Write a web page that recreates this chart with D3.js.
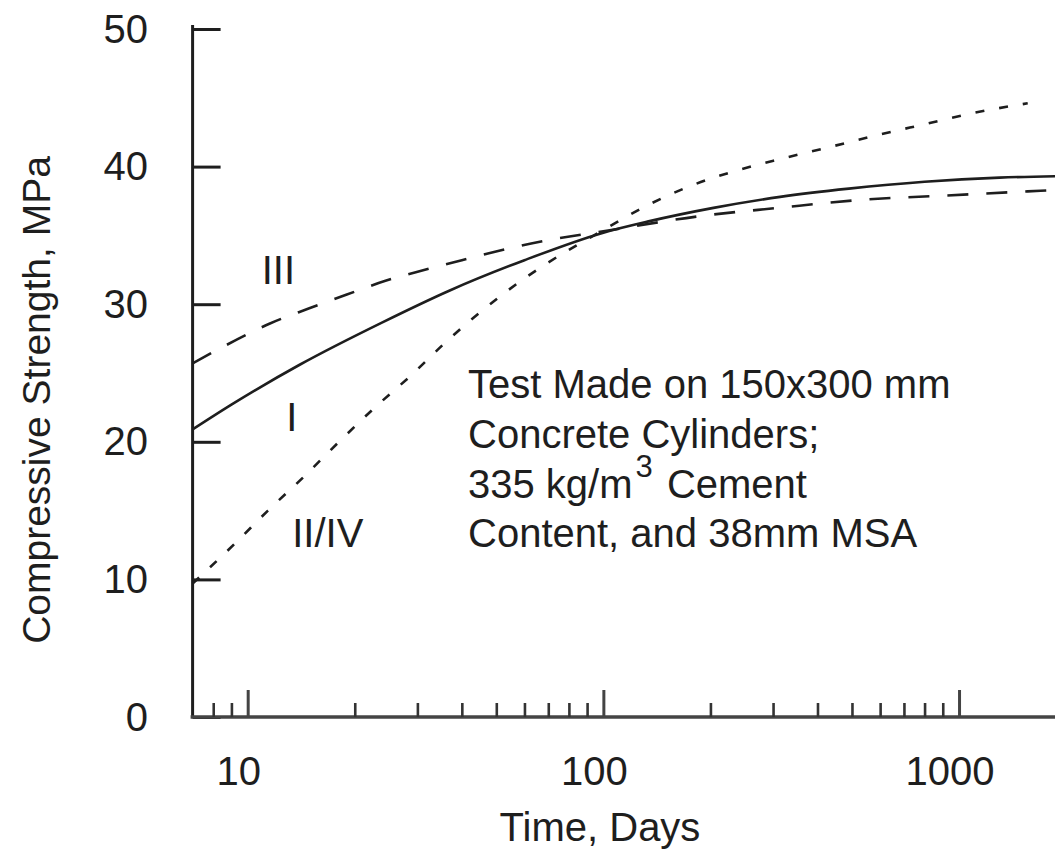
<!DOCTYPE html>
<html>
<head>
<meta charset="utf-8">
<script src="https://cdn.jsdelivr.net/npm/d3@7/dist/d3.min.js"></script>
<style>
  html, body { margin: 0; padding: 0; background: #fff; }
  svg { display: block; }
  text { font-family: "Liberation Sans", Arial, Helvetica, sans-serif; fill: #1e1e1e; }
</style>
</head>
<body>
<svg id="chart" width="1055" height="850"></svg>
<script>
// ---------- data ----------
const typeIDays      = [7, 9, 14, 24, 37, 60, 100, 133, 204, 314, 490, 800, 1300, 1870];
const typeIStrength  = [20.9, 22.7, 25.6, 28.7, 31.0, 33.2, 35.2, 36.0, 37.0, 37.8, 38.4, 38.9, 39.2, 39.3];

const typeIIIDays     = [7, 9.2, 11.55, 14.9, 19, 24.4, 31.5, 40, 68, 100, 187, 310, 540, 920, 1560, 1870];
const typeIIIStrength = [25.7, 27.35, 28.6, 29.7, 30.7, 31.7, 32.5, 33.2, 34.6, 35.3, 36.4, 37.0, 37.6, 37.9, 38.2, 38.3];

const typeIIIVDays     = [7, 9.2, 11.4, 14.3, 17.9, 22.8, 29, 35.9, 52, 66, 100, 131, 176, 236, 320, 437, 592, 807, 1100, 1560];
const typeIIIVStrength = [9.7, 12.6, 15.0, 17.4, 19.9, 22.5, 24.9, 27.2, 30.7, 32.6, 35.4, 37.1, 38.6, 39.7, 40.6, 41.45, 42.3, 43.1, 43.9, 44.6];

const yTicks      = [0, 10, 20, 30, 40, 50];
const xMajorTicks = [10, 100, 1000];
const xMinorTicks = [8, 9, 20, 30, 40, 50, 60, 70, 80, 90, 200, 300, 400, 500, 600, 700, 800, 900];
const xTickLabels = ["10", "100", "1000"];

const seriesLabels = ["III", "I", "II/IV"];
const noteLines = ["Test Made on 150x300 mm", "Concrete Cylinders;", "335 kg/m", "3", " Cement", "Content, and 38mm MSA"];
const xTitle = "Time, Days";
const yTitle = "Compressive Strength, MPa";

// ---------- layout ----------
const svg = d3.select("#chart");
const ink = "#1e1e1e";
const x = d3.scaleLog().domain([7, 2000]).range([192.6, 1066.1]);
const y = d3.scaleLinear().domain([0, 50]).range([717, 29]);

svg.append("defs").append("clipPath").attr("id", "plotclip")
  .append("rect").attr("x", 190).attr("y", 0).attr("width", 865).attr("height", 720);

// ---------- axes ----------
const yAxis = d3.axisRight(y).tickValues(yTicks).tickSize(28).tickFormat("");
const gy = svg.append("g").attr("transform", `translate(${x(7)},0)`).call(yAxis);
gy.select(".domain").attr("stroke", ink).attr("stroke-width", 3).attr("d", `M0,${y(50) - 4}V${y(0)}`);
gy.selectAll(".tick line").attr("stroke", ink).attr("stroke-width", 3);

const xAxisMajor = d3.axisTop(x).tickValues(xMajorTicks).tickSize(27).tickFormat("");
const gx = svg.append("g").attr("transform", `translate(0,${y(0)})`).call(xAxisMajor);
gx.select(".domain").attr("stroke", "#444").attr("stroke-width", 3.5).attr("d", `M${x(7) - 2},0H1060`);
gx.selectAll(".tick line").attr("stroke", "#444").attr("stroke-width", 3);

const xAxisMinor = d3.axisTop(x).tickValues(xMinorTicks).tickSize(14).tickFormat("");
const gxm = svg.append("g").attr("transform", `translate(0,${y(0)})`).call(xAxisMinor);
gxm.select(".domain").remove();
gxm.selectAll(".tick line").attr("stroke", "#333").attr("stroke-width", 2.6);

// tick labels
svg.append("g").selectAll("text").data(yTicks).join("text")
  .attr("x", 148).attr("y", d => y(d)).attr("dy", "0.34em")
  .attr("text-anchor", "end").attr("font-size", 40).text(d => d);

svg.append("g").selectAll("text").data(xMajorTicks).join("text")
  .attr("x", d => x(d) - 9).attr("y", 785)
  .attr("text-anchor", "middle").attr("font-size", 40).text((d, i) => xTickLabels[i]);

// axis titles
svg.append("text").attr("x", 600).attr("y", 841).attr("text-anchor", "middle")
  .attr("font-size", 40).text(xTitle);
svg.append("text").attr("transform", "translate(50,400) rotate(-90)")
  .attr("text-anchor", "middle").attr("font-size", 39).text(yTitle);

// ---------- curves ----------
const line = d3.line().x(d => x(d[0])).y(d => y(d[1])).curve(d3.curveMonotoneX);
const plot = svg.append("g").attr("clip-path", "url(#plotclip)");
const series = [
  { days: typeIDays, vals: typeIStrength, dash: null },
  { days: typeIIIDays, vals: typeIIIStrength, dash: "21,18" },
  { days: typeIIIVDays, vals: typeIIIVStrength, dash: "9,15" }
];
series.forEach(s => {
  plot.append("path")
    .datum(d3.zip(s.days, s.vals))
    .attr("d", line)
    .attr("fill", "none")
    .attr("stroke", ink)
    .attr("stroke-width", 2.6)
    .attr("stroke-dasharray", s.dash);
});

// ---------- series labels ----------
const labelAt = [[12.2, 31.5], [13.3, 20.8], [16.8, 12.35]];
svg.append("g").selectAll("text").data(seriesLabels).join("text")
  .attr("x", (d, i) => x(labelAt[i][0])).attr("y", (d, i) => y(labelAt[i][1]))
  .attr("text-anchor", "middle").attr("font-size", 40).text(d => d);

// ---------- note ----------
const note = svg.append("g");
note.append("text").attr("x", 468).attr("y", 398).attr("font-size", 40).text(noteLines[0]);
note.append("text").attr("x", 468).attr("y", 448).attr("font-size", 40).text(noteLines[1]);
const l3 = note.append("text").attr("x", 468).attr("y", 498).attr("font-size", 40);
l3.append("tspan").text(noteLines[2]);
l3.append("tspan").attr("dy", -21).attr("dx", 3).attr("font-size", 31).text(noteLines[3]);
l3.append("tspan").attr("dy", 21).attr("dx", 3).text(noteLines[4]);
note.append("text").attr("x", 468).attr("y", 547).attr("font-size", 40).text(noteLines[5]);
</script>
</body>
</html>
